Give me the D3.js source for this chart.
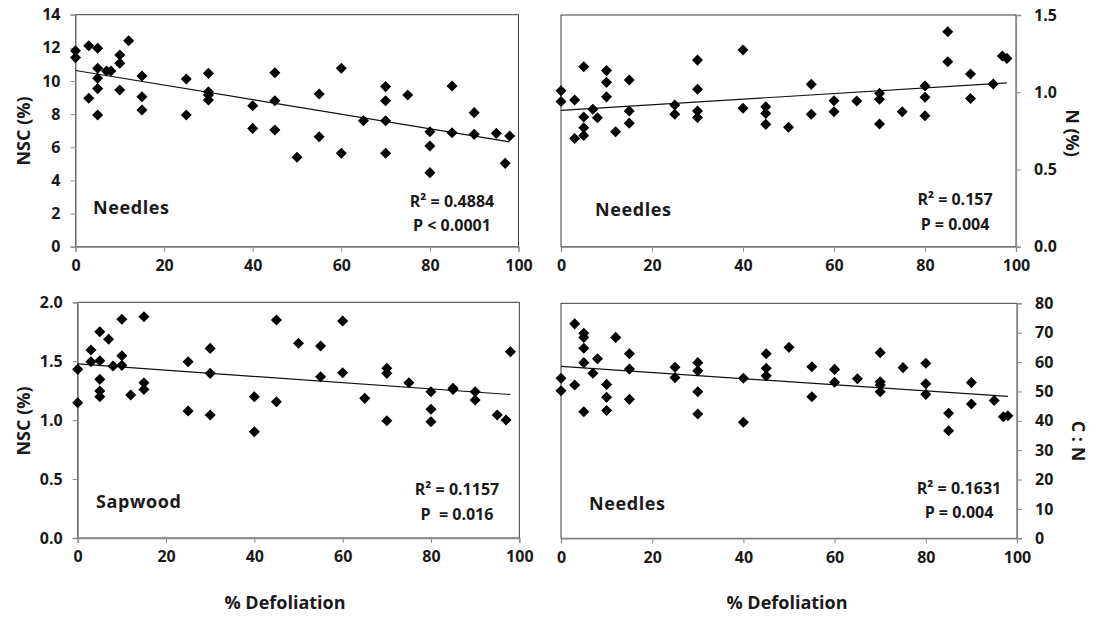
<!DOCTYPE html>
<html>
<head>
<meta charset="utf-8">
<script src="https://cdn.jsdelivr.net/npm/d3@7"></script>
<style>
  html, body { margin: 0; padding: 0; background: #fff; }
  svg { display: block; font-family: "Open Sans", "Liberation Sans", sans-serif; font-weight: bold; }
</style>
</head>
<body>
<svg id="chart" width="1096" height="621"></svg>
<script>
// Defoliation levels (%) and measured responses for each panel
const defolNeedleNsc = [0,0,3,3,5,5,5,5,5,7,8,10,10,10,12,15,15,15,25,25,30,30,30,30,40,40,45,45,45,50,55,55,60,60,65,70,70,70,70,75,80,80,80,85,85,90,90,95,97,98];
const needleNsc = [11.83,11.41,12.13,8.96,11.97,10.77,10.16,9.54,7.95,10.6,10.6,11.57,11.07,9.46,12.43,10.3,9.05,8.25,10.12,7.95,10.46,9.35,9.15,8.85,8.51,7.14,10.5,8.81,7.04,5.4,9.22,6.64,10.77,5.64,7.6,9.66,8.81,7.6,5.64,9.15,6.94,6.08,4.47,9.7,6.88,8.09,6.78,6.84,5.03,6.68];

const defolNeedleN = [0,0,3,3,5,5,5,5,7,8,10,10,10,12,15,15,15,25,25,30,30,30,30,40,40,45,45,45,50,55,55,60,60,65,70,70,70,75,80,80,80,85,85,90,90,95,97,98];
const needleN = [1.01,0.94,0.95,0.70,1.165,0.84,0.77,0.72,0.89,0.835,1.14,1.064,0.97,0.744,1.079,0.878,0.80,0.917,0.857,1.208,1.019,0.878,0.837,1.273,0.896,0.906,0.863,0.792,0.773,1.051,0.857,0.945,0.874,0.943,0.993,0.954,0.794,0.874,1.04,0.967,0.848,1.392,1.197,1.118,0.96,1.053,1.234,1.219];

const defolSapwoodNsc = [0,0,3,3,5,5,5,5,5,7,8,10,10,10,12,15,15,15,25,25,30,30,30,40,40,45,45,50,55,55,60,60,65,70,70,70,75,80,80,80,85,85,90,90,95,97,98];
const sapwoodNsc = [1.431,1.148,1.595,1.496,1.75,1.504,1.346,1.247,1.199,1.686,1.459,1.856,1.547,1.465,1.213,1.878,1.318,1.261,1.496,1.077,1.609,1.397,1.043,1.199,0.902,1.85,1.156,1.652,1.629,1.368,1.841,1.402,1.185,1.44,1.397,0.995,1.318,1.241,1.092,0.987,1.27,1.26,1.241,1.171,1.043,1.001,1.581];

const defolNeedleCN = [0,0,3,3,5,5,5,5,5,7,8,10,10,10,12,15,15,15,25,25,30,30,30,30,40,40,45,45,45,50,55,55,60,60,65,70,70,70,70,75,80,80,80,85,85,90,90,95,97,98];
const needleCN = [54.5,50.2,73.0,52.2,69.8,68.4,64.7,59.8,43.1,56.2,61.1,52.4,48.0,43.5,68.4,62.8,57.6,47.3,58.2,54.7,59.8,57.0,49.9,42.3,54.5,39.5,62.8,57.9,55.3,65.0,58.4,48.2,57.5,53.1,54.3,63.2,53.3,52.2,49.9,58.1,59.6,52.6,49.0,42.6,36.6,53.0,45.7,46.9,41.4,41.7];

// Axis ticks and annotation texts
const xTicks = [0, 20, 40, 60, 80, 100];
const nscNeedleTicks = [0, 2, 4, 6, 8, 10, 12, 14];
const nTicks = [0, 0.5, 1.0, 1.5];
const nscSapwoodTicks = [0, 0.5, 1.0, 1.5, 2.0];
const cnTicks = [0, 10, 20, 30, 40, 50, 60, 70, 80];
const tissueLabels = ["Needles", "Needles", "Sapwood", "Needles"];
const r2Labels = ["R\u00B2 = 0.4884", "R\u00B2 = 0.157", "R\u00B2 = 0.1157", "R\u00B2 = 0.1631"];
const pLabels = ["P < 0.0001", "P = 0.004", "P\u00A0 = 0.016", "P = 0.004"];
const yTitles = ["NSC (%)", "N (%)", "NSC (%)", "C : N"];
const xTitle = "% Defoliation";

const svg = d3.select("#chart");
const TEXT = "#1a1a1a";
const AXIS = "#8a8a8a";

const panels = [
  { xs: defolNeedleNsc, ys: needleNsc, ticks: nscNeedleTicks, fmt: d3.format("d"), side: "left",
    box: { l: 75.5, r: 518.5, t: 14.7, b: 246.7 }, label: [93, 213.5], stats: [452, 207, 231],
    title: [23, 131] },
  { xs: defolNeedleN, ys: needleN, ticks: nTicks, fmt: d3.format(".1f"), side: "right",
    box: { l: 561, r: 1016, t: 15, b: 246.7 }, label: [595, 216], stats: [955, 205, 229.5],
    title: [1073, 133] },
  { xs: defolSapwoodNsc, ys: sapwoodNsc, ticks: nscSapwoodTicks, fmt: d3.format(".1f"), side: "left",
    box: { l: 77.7, r: 519.3, t: 302.3, b: 538 }, label: [96, 508], stats: [457, 495, 519.5],
    title: [23, 421] },
  { xs: defolNeedleCN, ys: needleCN, ticks: cnTicks, fmt: d3.format("d"), side: "right",
    box: { l: 561, r: 1017, t: 303.3, b: 538.3 }, label: [589, 509.5], stats: [959, 493.5, 518],
    title: [1079, 441] }
];

// Ordinary least-squares fit used for the trend line
function linearFit(xs, ys) {
  const mx = d3.mean(xs), my = d3.mean(ys);
  let sxy = 0, sxx = 0;
  xs.forEach((x, i) => { sxy += (x - mx) * (ys[i] - my); sxx += (x - mx) * (x - mx); });
  const slope = sxy / sxx;
  return { slope, intercept: my - slope * mx };
}

const diamond = d3.symbol().type(d3.symbolDiamond2).size(78);

panels.forEach((p, k) => {
  const { l, r, t, b } = p.box;
  const x = d3.scaleLinear().domain([0, 100]).range([l, r]);
  const y = d3.scaleLinear().domain([0, d3.max(p.ticks)]).range([b, t]);
  const g = svg.append("g");

  // plot frame
  g.append("rect").attr("x", l).attr("y", t).attr("width", r - l).attr("height", b - t)
    .attr("fill", "none").attr("stroke", "#3a3a3a").attr("stroke-width", 1);

  // x axis
  const xAxis = d3.axisBottom(x).tickValues(xTicks).tickSize(5).tickPadding(8).tickFormat(d3.format("d"));
  const gx = g.append("g").attr("transform", `translate(0,${b})`).call(xAxis);
  gx.select(".domain").attr("stroke", AXIS).attr("stroke-width", 1.3);
  gx.selectAll(".tick line").attr("stroke", AXIS);
  gx.selectAll(".tick text").attr("fill", TEXT).style("font-size", "16px").style("font-family", "'Open Sans', sans-serif").style("font-weight", "bold");

  // y axis
  const yAxis = (p.side === "left" ? d3.axisLeft(y) : d3.axisRight(y))
    .tickValues(p.ticks).tickSize(5).tickPadding(p.side === "left" ? 10 : 13).tickFormat(p.fmt);
  const gy = g.append("g").attr("transform", `translate(${p.side === "left" ? l : r},0)`).call(yAxis);
  gy.select(".domain").attr("stroke", AXIS).attr("stroke-width", 1.3);
  gy.selectAll(".tick line").attr("stroke", AXIS);
  gy.selectAll(".tick text").attr("fill", TEXT).style("font-size", "16px").style("font-family", "'Open Sans', sans-serif").style("font-weight", "bold");

  // trend line over the observed range
  const fit = linearFit(p.xs, p.ys);
  const x0 = d3.min(p.xs), x1 = d3.max(p.xs);
  g.append("line")
    .attr("x1", x(x0)).attr("y1", y(fit.intercept + fit.slope * x0))
    .attr("x2", x(x1)).attr("y2", y(fit.intercept + fit.slope * x1))
    .attr("stroke", "#111").attr("stroke-width", 1.2);

  // observations
  g.append("g").selectAll("path").data(p.xs.map((v, i) => [v, p.ys[i]])).join("path")
    .attr("d", diamond)
    .attr("transform", d => `translate(${x(d[0])},${y(d[1])})`)
    .attr("fill", "#000");

  // tissue label
  g.append("text").attr("x", p.label[0]).attr("y", p.label[1])
    .attr("fill", TEXT).style("font-size", "18px").style("letter-spacing", "0.6px")
    .text(tissueLabels[k]);

  // fit statistics
  g.append("text").attr("x", p.stats[0]).attr("y", p.stats[1]).attr("text-anchor", "middle")
    .attr("fill", TEXT).style("font-size", "16px").text(r2Labels[k]);
  g.append("text").attr("x", p.stats[0]).attr("y", p.stats[2]).attr("text-anchor", "middle")
    .attr("fill", TEXT).style("font-size", "16px").text(pLabels[k]);

  // y axis title
  g.append("text")
    .attr("transform", `translate(${p.title[0]},${p.title[1]}) rotate(${p.side === "left" ? -90 : 90})`)
    .attr("text-anchor", "middle").attr("dominant-baseline", "central")
    .attr("fill", TEXT).style("font-size", "18px").text(yTitles[k]);
});

// shared x axis titles under the lower panels
[285, 787].forEach(cx => {
  svg.append("text").attr("x", cx).attr("y", 609).attr("text-anchor", "middle")
    .attr("fill", TEXT).style("font-size", "18px").text(xTitle);
});
</script>
</body>
</html>
